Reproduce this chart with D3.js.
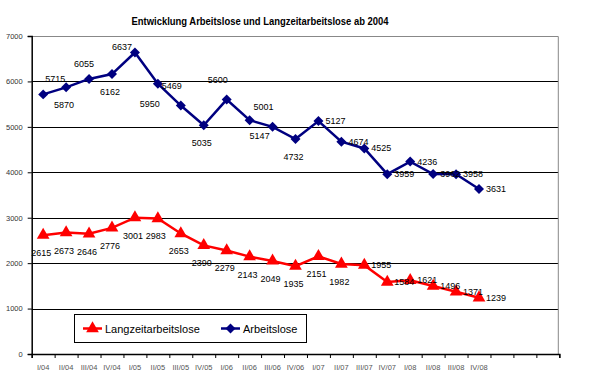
<!DOCTYPE html>
<html>
<head>
<meta charset="utf-8">
<script src="https://cdn.jsdelivr.net/npm/d3@7"></script>
<style>
  body { margin: 0; background: #fff; }
  svg { display: block; font-family: "Liberation Sans", Arial, sans-serif; }
</style>
</head>
<body>
<svg width="604" height="387"></svg>
<script>
// quarters shown on the x axis (23 slots in total, last 3 empty)
var quarters = ["I/04","II/04","III/04","IV/04","I/05","II/05","III/05","IV/05",
                "I/06","II/06","III/06","IV/06","I/07","II/07","III/07","IV/07",
                "I/08","II/08","III/08","IV/08"];
var slotCount = 23;

var arbeitslose = [5715,5870,6055,6162,6637,5950,5469,5035,5600,5147,
                   5001,4732,5127,4674,4525,3959,4236,3962,3958,3631];
var langzeit = [2615,2673,2646,2776,3001,2983,2653,2390,2279,2143,
                2049,1935,2151,1982,1955,1584,1621,1496,1371,1239];

var yTicks = [0,1000,2000,3000,4000,5000,6000,7000];

// where each data label sits relative to its point
var arbPlace = ["ar","b","a","b","l","bl","al","b","al","br",
                "al","b","r","r","r","r","r","r","r","r"];
var lzPlace  = ["b","b","b","b","b","b","b","b","b","b",
                "b","b","b","b","r","r","r","r","r","r"];

var svg = d3.select("svg");
var plotLeft = 31.7, plotRight = 559.3, plotTop = 36, plotBottom = 354;

var x = d3.scaleLinear().domain([0, slotCount]).range([plotLeft, plotRight]);
var y = d3.scaleLinear().domain([0, 7000]).range([plotBottom, plotTop]);
var cx = function(i) { return x(i + 0.5); };

// title
svg.append("text")
    .attr("x", 260).attr("y", 25)
    .attr("text-anchor", "middle")
    .attr("font-size", "10.5px")
    .attr("font-weight", "bold")
    .attr("textLength", 257)
    .attr("lengthAdjust", "spacingAndGlyphs")
    .text("Entwicklung Arbeitslose und Langzeitarbeitslose ab 2004");

// grid lines
svg.append("g").selectAll("line")
    .data(yTicks.filter(function(d) { return d > 0 && d < 7000; }))
    .enter().append("line")
      .attr("x1", plotLeft).attr("x2", plotRight - 1)
      .attr("y1", function(d) { return Math.round(y(d)) + 0.5; })
      .attr("y2", function(d) { return Math.round(y(d)) + 0.5; })
      .attr("stroke", "#000").attr("stroke-width", 1);

// plot border top/right (grey)
svg.append("path")
    .attr("d", "M" + plotLeft + "," + (plotTop + 0.5) + "H" + (plotRight - 1) + "V" + plotBottom)
    .attr("fill", "none").attr("stroke", "#888").attr("stroke-width", 1);

// y axis
var yAxis = svg.append("g")
    .attr("transform", "translate(" + plotLeft + ",0)")
    .call(d3.axisLeft(y).tickValues(yTicks).tickSize(4).tickFormat(d3.format("d")));
yAxis.select(".domain").attr("stroke", "#000").attr("stroke-width", 1.5);
yAxis.selectAll(".tick line").attr("stroke", "#000");
yAxis.selectAll(".tick text")
    .attr("font-family", "Liberation Sans, Arial, sans-serif")
    .attr("font-size", "7.5px").attr("fill", "#333").attr("x", -9);

// x axis with ticks on slot boundaries
var xAxis = svg.append("g")
    .attr("transform", "translate(0," + plotBottom + ")")
    .call(d3.axisBottom(x).tickValues(d3.range(slotCount + 1)).tickSize(4).tickFormat(""));
xAxis.select(".domain").attr("stroke", "#000").attr("stroke-width", 1.5);
xAxis.selectAll(".tick line").attr("stroke", "#000");

svg.append("g").selectAll("text")
    .data(quarters)
    .enter().append("text")
      .attr("x", function(d, i) { return cx(i); })
      .attr("y", 370)
      .attr("text-anchor", "middle")
      .attr("font-size", "7.5px")
      .attr("fill", "#555")
      .text(function(d) { return d; });

var line = d3.line()
    .x(function(d, i) { return cx(i); })
    .y(function(d) { return y(d); });

// excel style diamond = square turned 45 degrees
var diamond = d3.symbol().type(d3.symbolSquare).size(50);
var triangle = d3.symbol().type(d3.symbolTriangle).size(70);

function drawSeries(values, color, sym, rot) {
  svg.append("path")
      .datum(values)
      .attr("d", line)
      .attr("fill", "none")
      .attr("stroke", color)
      .attr("stroke-width", 2.5);
  svg.append("g").selectAll("path")
      .data(values)
      .enter().append("path")
        .attr("d", sym)
        .attr("transform", function(d, i) { return "translate(" + cx(i) + "," + y(d) + ") rotate(" + rot + ")"; })
        .attr("fill", color);
}

drawSeries(arbeitslose, "#000080", diamond, 45);
drawSeries(langzeit, "#ff0000", triangle, 0);

function placeLabel(sel, place) {
  sel.each(function(d, i) {
    var p = place[i], t = d3.select(this), dx = 0, dy = 0, anchor = "middle";
    if (p === "a")  { dx = -5; dy = -12; }
    if (p === "ar") { dx = 2; dy = -12; anchor = "start"; }
    if (p === "b")  { dx = -2; dy = 21; }
    if (p === "bl") { dx = 2; dy = 23; anchor = "end"; }
    if (p === "br") { dx = 0; dy = 19; anchor = "start"; }
    if (p === "al") { dx = 1; dy = -17; anchor = "end"; }
    if (p === "l")  { dx = -3; dy = -2; anchor = "end"; }
    if (p === "r")  { dx = 7; dy = 3; anchor = "start"; }
    t.attr("x", cx(i) + dx).attr("y", y(d) + dy).attr("text-anchor", anchor);
  });
}

svg.append("g").selectAll("text")
    .data(arbeitslose)
    .enter().append("text")
      .attr("font-size", "9px")
      .text(function(d) { return d; })
      .call(placeLabel, arbPlace);

svg.append("g").selectAll("text")
    .data(langzeit)
    .enter().append("text")
      .attr("font-size", "9px")
      .text(function(d) { return d; })
      .call(placeLabel, lzPlace);

// legend
var legend = svg.append("g");
legend.append("rect")
    .attr("x", 74.5).attr("y", 314.5).attr("width", 232).attr("height", 28)
    .attr("fill", "#fff").attr("stroke", "#000").attr("stroke-width", 1);

var items = [
  { name: "Langzeitarbeitslose", color: "#ff0000", sym: triangle, rot: 0, x: 83 },
  { name: "Arbeitslose", color: "#000080", sym: diamond, rot: 45, x: 221 }
];
items.forEach(function(it) {
  legend.append("line")
      .attr("x1", it.x).attr("x2", it.x + 19)
      .attr("y1", 328.5).attr("y2", 328.5)
      .attr("stroke", it.color).attr("stroke-width", 2.5);
  legend.append("path")
      .attr("d", it.sym)
      .attr("transform", "translate(" + (it.x + 9.5) + ",328.5) rotate(" + it.rot + ")")
      .attr("fill", it.color);
  legend.append("text")
      .attr("x", it.x + 22).attr("y", 332.5)
      .attr("font-size", "11px")
      .text(it.name);
});
</script>
</body>
</html>
